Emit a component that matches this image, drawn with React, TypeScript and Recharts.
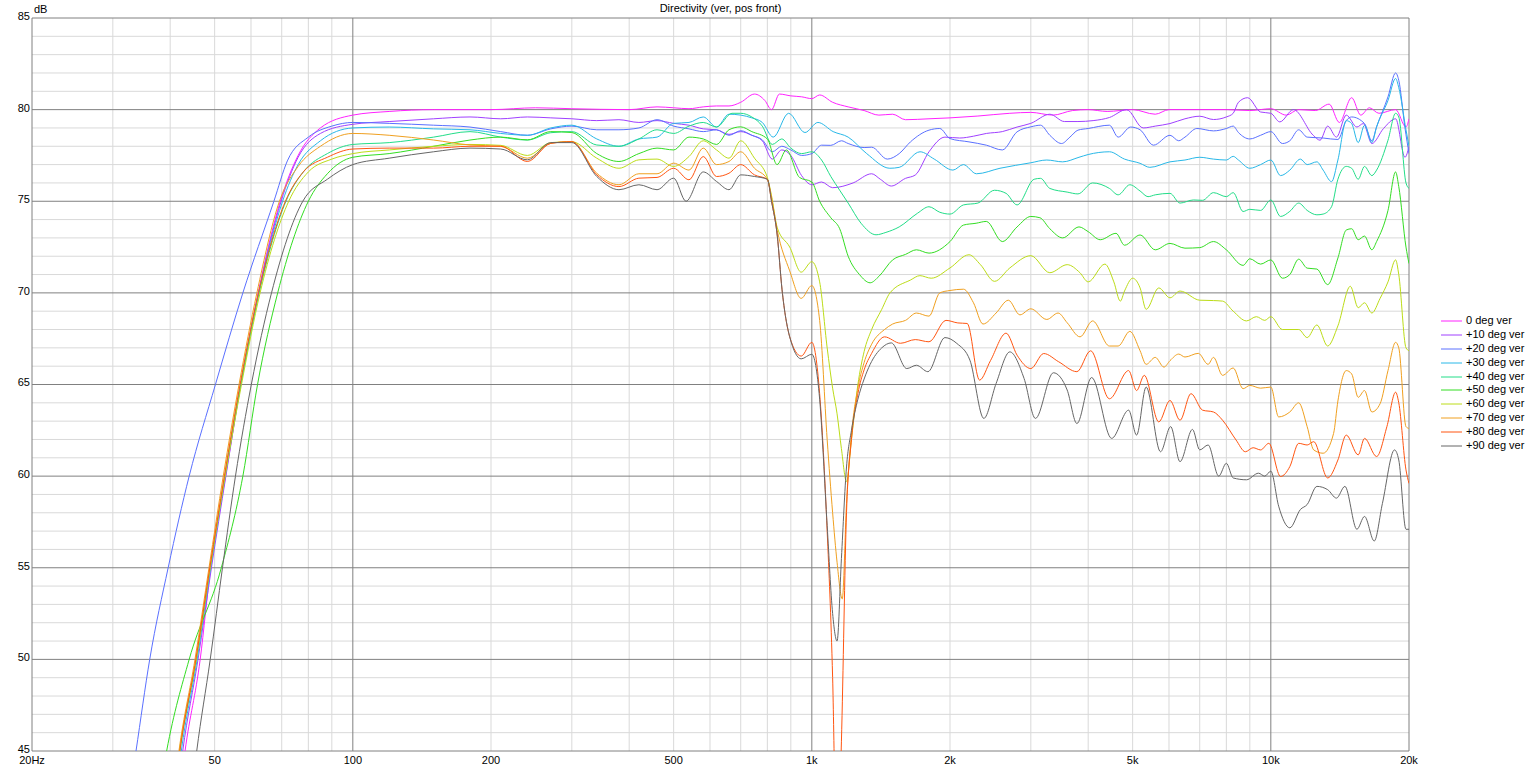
import React from 'react';
import { LineChart, Line, XAxis, YAxis, ReferenceLine } from 'recharts';

type P = [number, number];

const SERIES_NAMES = ['0 deg ver', '+10 deg ver', '+20 deg ver', '+30 deg ver', '+40 deg ver', '+50 deg ver', '+60 deg ver', '+70 deg ver', '+80 deg ver', '+90 deg ver'];
const SERIES_COLORS = ['#ff22ff', '#a040ff', '#5a70ff', '#28b8e8', '#22dd88', '#33dd22', '#bcdc18', '#f0a020', '#ff5511', '#666666'];

const FREQ_TICKS = [20, 50, 100, 200, 500, 1000, 2000, 5000, 10000, 20000];
const FREQ_TICK_LABELS = ['20Hz', '50', '100', '200', '500', '1k', '2k', '5k', '10k', '20k'];
const DB_TICKS = [45, 50, 55, 60, 65, 70, 75, 80, 85];
const X_MAJOR = [100, 1000, 10000];
const X_MINOR = [30, 40, 50, 60, 70, 80, 90, 200, 300, 400, 500, 600, 700, 800, 900, 2000, 3000, 4000, 5000, 6000, 7000, 8000, 9000];
const Y_MAJOR = [50, 55, 60, 65, 70, 75, 80];
const Y_MINOR = [46, 47, 48, 49, 51, 52, 53, 54, 56, 57, 58, 59, 61, 62, 63, 64, 66, 67, 68, 69, 71, 72, 73, 74, 76, 77, 78, 79, 81, 82, 83, 84];

const S0: P[] = [[39, 35], [43.1, 45], [46.5, 50], [49, 55], [52.8, 60], [57, 65], [62.2, 70], [69.5, 75], [76, 77.5], [85, 79], [100, 79.7], [120, 79.9], [150, 80], [200, 80], [250, 80.1], [300, 80.05], [400, 80], [460, 80.15], [500, 80.1], [540, 80.05], [580, 80.15], [620, 80.2], [660, 80.2], [700, 80.4], [750, 80.85], [790, 80.5], [817, 80.0], [850, 80.85], [900, 80.75], [950, 80.7], [1000, 80.6], [1040, 80.8], [1110, 80.4], [1200, 80.15], [1300, 79.95], [1400, 79.7], [1500, 79.75], [1600, 79.45], [1800, 79.5], [2000, 79.55], [2300, 79.65], [2700, 79.8], [3000, 79.85], [3350, 79.7], [3700, 79.95], [4000, 80], [4400, 79.9], [5000, 80], [5600, 79.75], [6000, 80], [7000, 80], [8000, 80], [9000, 79.95], [10000, 80.05], [10800, 79.7], [11500, 80], [12500, 79.95], [13400, 80.3], [14100, 79.3], [15000, 80.65], [15700, 79.7], [16400, 80.1], [17200, 79.8], [18700, 80], [19700, 79.05], [20000, 79.5]];

const S10: P[] = [[38.6, 35], [42.6, 45], [46, 50], [49.2, 55], [52.9, 60], [57, 65], [62.3, 70], [69.8, 75], [76, 77.4], [85, 78.7], [100, 79.2], [120, 79.35], [150, 79.5], [180, 79.6], [210, 79.5], [240, 79.6], [270, 79.55], [300, 79.5], [340, 79.4], [380, 79.45], [420, 79.3], [460, 79.4], [500, 79.25], [540, 79.15], [580, 78.95], [620, 78.9], [660, 78.65], [700, 78.8], [740, 78.6], [780, 78.3], [820, 77.3], [860, 77.8], [900, 77.5], [950, 76.4], [1000, 75.9], [1050, 76.05], [1110, 75.74], [1230, 76.0], [1350, 76.5], [1410, 76.2], [1490, 75.83], [1600, 76.25], [1680, 76.43], [1800, 77.7], [1950, 78.5], [2100, 78.45], [2250, 78.55], [2400, 78.7], [2600, 78.8], [2800, 79.05], [3000, 79.25], [3300, 79.75], [3550, 79.35], [3800, 79.35], [4100, 79.4], [4450, 79.57], [4850, 80.0], [5270, 79.0], [5600, 79.1], [6030, 79.24], [6500, 79.5], [7000, 79.64], [7500, 79.46], [8000, 79.6], [8280, 79.8], [8500, 80.4], [8900, 80.65], [9500, 79.87], [10000, 79.8], [10460, 79.33], [11200, 80.0], [12370, 78.6], [12800, 78.33], [13300, 79.1], [13900, 78.5], [14600, 79.7], [15400, 79.05], [15900, 79.24], [16600, 78.15], [17600, 78.97], [18700, 79.5], [19600, 77.4], [20000, 78.0]];

const S20: P[] = [[30, 36.5], [33.7, 45], [36.1, 50], [39.6, 55], [44, 60], [50.2, 65], [57.6, 70], [67.3, 75], [72, 77.2], [80, 78.5], [90, 79.1], [100, 79.3], [120, 79.25], [150, 79.15], [180, 79.05], [210, 78.8], [240, 78.6], [270, 78.95], [300, 79.1], [340, 78.9], [380, 78.9], [420, 79.0], [460, 79.45], [500, 79.1], [540, 78.95], [580, 78.8], [620, 78.9], [660, 78.6], [700, 78.85], [740, 78.6], [780, 78.35], [820, 77.7], [860, 78.0], [900, 77.8], [950, 77.5], [1000, 77.6], [1050, 78.06], [1100, 78.05], [1160, 78.3], [1200, 78.15], [1300, 77.93], [1350, 77.95], [1460, 77.3], [1550, 77.6], [1640, 78.24], [1800, 78.88], [1900, 78.97], [2000, 78.42], [2200, 78.24], [2400, 78.06], [2600, 77.8], [2800, 78.79], [3000, 79.06], [3150, 79.15], [3300, 78.6], [3500, 78.15], [3650, 78.5], [3800, 78.88], [4000, 78.97], [4450, 79.15], [4650, 78.5], [4950, 79.05], [5190, 78.9], [5550, 78.06], [6030, 78.6], [6300, 78.3], [6500, 78.5], [6900, 78.97], [7500, 78.84], [8000, 78.97], [8280, 79.1], [8500, 78.75], [9000, 78.4], [9500, 78.6], [10000, 78.8], [10600, 78.15], [11000, 78.3], [11500, 78.9], [12000, 78.5], [13000, 78.45], [14000, 78.37], [14600, 79.4], [15000, 79.6], [16000, 79.24], [16600, 78.3], [17000, 79.06], [18000, 80.7], [18700, 82.0], [19000, 81.6], [19600, 79.0], [20000, 77.6]];

const S30: P[] = [[38.3, 35], [42.3, 45], [45.8, 50], [49, 55], [52.7, 60], [57, 65], [62.4, 70], [70.3, 75], [76, 77.0], [85, 78.3], [100, 79.0], [120, 79.05], [150, 78.95], [180, 78.9], [210, 78.7], [240, 78.6], [270, 79.0], [300, 79.15], [340, 78.4], [380, 78.0], [420, 78.4], [460, 78.5], [500, 79.25], [540, 79.3], [580, 79.6], [620, 79.05], [660, 79.75], [700, 79.7], [740, 79.55], [780, 79.3], [824, 78.5], [890, 79.8], [966, 78.75], [1031, 79.3], [1113, 78.8], [1200, 78.5], [1317, 77.6], [1479, 76.8], [1550, 76.85], [1721, 77.7], [1848, 77.3], [2030, 76.7], [2138, 77.0], [2284, 76.5], [2570, 76.8], [3000, 77.1], [3250, 77.25], [3520, 77.15], [3820, 77.4], [4000, 77.55], [4450, 77.7], [4800, 77.3], [5190, 77.07], [5450, 76.85], [6030, 77.15], [6500, 77.25], [7000, 77.4], [7500, 77.3], [8000, 77.25], [8280, 77.45], [8500, 77.25], [9000, 76.8], [9500, 77.0], [10000, 77.25], [10500, 76.4], [11000, 76.7], [11600, 77.3], [12000, 77.0], [12600, 77.15], [13000, 76.7], [13560, 76.07], [14000, 77.25], [14600, 79.4], [15000, 79.24], [15500, 78.2], [16000, 79.15], [16600, 78.2], [17000, 79.06], [18000, 80.5], [18700, 81.7], [19000, 81.2], [19700, 78.9], [20000, 78.0]];

const S40: P[] = [[38, 35], [42, 45], [45.6, 50], [48.9, 55], [52.6, 60], [57, 65], [62.5, 70], [71.5, 75], [78, 76.6], [88, 77.6], [100, 78.1], [120, 78.2], [150, 78.5], [180, 78.8], [210, 78.5], [240, 78.34], [270, 78.74], [300, 78.8], [340, 78.07], [380, 78.0], [420, 78.4], [460, 78.9], [500, 78.7], [540, 79.1], [580, 79.3], [620, 79.05], [670, 79.8], [700, 79.8], [740, 79.6], [780, 79.1], [820, 78.1], [860, 78.4], [900, 77.9], [950, 77.6], [1000, 77.7], [1050, 77.25], [1100, 76.35], [1150, 75.6], [1200, 74.9], [1280, 73.8], [1380, 73.17], [1450, 73.3], [1550, 73.6], [1700, 74.35], [1800, 74.7], [1900, 74.4], [2000, 74.3], [2140, 74.8], [2300, 74.9], [2500, 75.6], [2650, 75.43], [2800, 74.8], [3050, 76.2], [3150, 76.25], [3300, 75.7], [3600, 75.5], [3800, 75.4], [4090, 76.0], [4450, 75.7], [4650, 75.35], [4930, 75.9], [5190, 75.56], [5400, 75.25], [5600, 75.35], [6030, 75.43], [6340, 74.9], [6780, 75.07], [7100, 75.05], [7500, 75.47], [8000, 75.25], [8280, 75.47], [8700, 74.44], [9000, 74.56], [9500, 74.5], [10000, 75.07], [10500, 74.17], [11000, 74.45], [11500, 74.9], [12000, 74.5], [12600, 74.26], [13000, 74.3], [13560, 74.7], [14000, 76.2], [14600, 76.9], [15000, 76.8], [15500, 76.2], [16000, 76.9], [16600, 76.4], [17000, 76.7], [18000, 78.33], [18700, 79.8], [19000, 79.6], [19700, 76.0], [20000, 75.7]];

const S50: P[] = [[36.5, 40], [39.3, 45], [44, 50], [51.7, 55], [57.6, 60], [62, 65], [68.6, 70], [80, 75], [88, 76.5], [100, 77.4], [120, 77.6], [150, 78.0], [180, 78.34], [210, 78.5], [240, 78.35], [270, 78.8], [300, 78.75], [340, 77.6], [380, 77.17], [420, 77.6], [460, 77.9], [500, 77.8], [540, 78.5], [580, 78.4], [620, 78.1], [660, 78.9], [700, 79.06], [740, 78.8], [800, 78.4], [840, 77.0], [880, 77.8], [940, 76.3], [1000, 76.05], [1040, 75.0], [1100, 74.1], [1150, 73.5], [1200, 72.0], [1270, 71.0], [1340, 70.55], [1400, 70.9], [1500, 71.8], [1600, 72.1], [1690, 72.35], [1800, 72.17], [2000, 72.8], [2140, 73.7], [2280, 73.8], [2400, 73.9], [2600, 72.8], [2800, 73.6], [3000, 74.17], [3140, 74.1], [3300, 73.5], [3520, 73.0], [3820, 73.6], [4000, 73.34], [4250, 72.9], [4600, 73.25], [4800, 72.6], [5190, 73.16], [5600, 72.35], [6030, 72.7], [6500, 72.44], [7000, 72.47], [7500, 72.8], [8000, 72.35], [8700, 71.5], [9000, 71.86], [9500, 71.57], [10000, 71.8], [10600, 70.8], [11000, 71.0], [11500, 71.84], [12000, 71.35], [12600, 71.3], [13300, 70.45], [14000, 71.9], [14600, 73.43], [15000, 73.5], [15500, 72.9], [16000, 73.1], [16600, 72.35], [17000, 72.8], [18000, 74.5], [18700, 76.6], [19000, 75.8], [19700, 72.5], [20000, 71.6]];

const S60: P[] = [[38, 35], [41.9, 45], [45.6, 50], [48.9, 55], [52.7, 60], [57.2, 65], [62.8, 70], [72.5, 75], [80, 76.6], [90, 77.3], [100, 77.6], [120, 77.8], [150, 78.0], [180, 78.1], [210, 78.05], [240, 77.5], [270, 78.2], [300, 78.25], [340, 77.35], [380, 76.8], [420, 77.26], [460, 77.3], [500, 76.9], [540, 77.44], [580, 78.3], [620, 77.8], [660, 77.35], [700, 78.3], [750, 77.35], [800, 76.3], [817, 75.3], [841, 73.55], [895, 72.5], [948, 71.13], [1000, 71.7], [1040, 70.6], [1080, 67], [1110, 64.8], [1135, 63.4], [1160, 61.5], [1190, 59.7], [1220, 62.0], [1260, 65.0], [1300, 66.8], [1350, 68.0], [1420, 69.1], [1480, 70.0], [1640, 70.7], [1720, 70.94], [1820, 70.8], [2000, 71.36], [2200, 72.08], [2330, 71.54], [2500, 70.63], [2700, 71.36], [3000, 72.03], [3300, 71.1], [3600, 71.54], [3838, 71.1], [4000, 70.6], [4350, 71.57], [4550, 70.6], [4700, 69.55], [4800, 70.1], [5000, 70.8], [5190, 70.27], [5350, 69.1], [5700, 70.27], [6030, 69.73], [6340, 70.1], [7000, 69.6], [7500, 69.58], [7850, 69.55], [8280, 69.0], [8850, 68.47], [9300, 68.7], [9700, 68.5], [10000, 68.7], [10600, 68.0], [11500, 68.0], [12000, 67.56], [12600, 68.25], [13300, 67.1], [14000, 68.2], [14900, 70.36], [15500, 69.19], [16000, 69.46], [16600, 68.9], [17300, 69.7], [18000, 70.6], [18700, 71.8], [19000, 71.0], [19700, 67.0], [20000, 66.84]];

const S70: P[] = [[37.8, 35], [41.8, 45], [45.3, 50], [48.6, 55], [52.2, 60], [56.5, 65], [61.8, 70], [69.2, 75], [76, 76.9], [85, 78.0], [100, 78.7], [120, 78.6], [150, 78.34], [180, 78.07], [210, 78.0], [240, 77.35], [270, 78.16], [300, 78.25], [340, 76.53], [380, 75.9], [420, 76.5], [460, 76.5], [500, 77.08], [540, 76.7], [580, 77.9], [620, 77.0], [660, 77.17], [700, 77.7], [750, 76.8], [800, 76.2], [817, 75.2], [841, 73.4], [895, 71.2], [948, 69.7], [1000, 70.4], [1040, 68.5], [1080, 62], [1110, 58], [1135, 55.3], [1165, 53.3], [1190, 58.5], [1220, 62.3], [1260, 64.8], [1300, 66.2], [1350, 67.2], [1440, 68.0], [1500, 68.3], [1600, 68.5], [1690, 68.9], [1800, 68.73], [1900, 70.0], [2000, 70.13], [2140, 70.2], [2250, 69.46], [2360, 68.3], [2520, 68.9], [2680, 69.6], [2840, 68.8], [3000, 69.13], [3250, 68.55], [3440, 68.9], [3600, 68.37], [3840, 67.6], [4090, 68.47], [4450, 67.1], [4650, 67.1], [4930, 67.9], [5190, 66.84], [5350, 66.1], [5600, 66.48], [5850, 65.95], [6030, 66.3], [6300, 66.66], [6500, 66.5], [6950, 66.7], [7300, 66.1], [7500, 66.48], [7850, 65.5], [8280, 65.9], [8700, 64.77], [9000, 64.95], [9500, 64.8], [10000, 64.86], [10400, 63.23], [11000, 63.5], [11500, 64.0], [12000, 62.7], [12400, 61.43], [13000, 61.25], [13700, 62.33], [14000, 64.1], [14600, 65.76], [15000, 65.58], [15500, 64.3], [16000, 64.67], [16600, 63.5], [17300, 63.95], [18000, 65.76], [18700, 67.3], [19000, 67.0], [19700, 62.7], [20000, 62.6]];

const S80: P[] = [[38, 35], [42, 45], [45.5, 50], [48.8, 55], [52.5, 60], [56.8, 65], [62.3, 70], [71.3, 75], [78, 76.6], [88, 77.4], [100, 77.85], [120, 77.9], [150, 77.9], [180, 78.0], [210, 78.0], [240, 77.17], [270, 78.16], [300, 78.25], [340, 76.44], [380, 75.8], [420, 76.26], [460, 76.3], [500, 76.8], [540, 76.17], [580, 77.44], [620, 76.35], [660, 76.53], [700, 77.0], [750, 76.44], [800, 76.2], [817, 75.0], [841, 73.1], [861, 70.2], [895, 67.6], [948, 66.55], [1000, 67.3], [1040, 64.5], [1080, 57], [1110, 49], [1135, 38], [1160, 45.5], [1190, 58], [1220, 62], [1260, 64.5], [1300, 65.8], [1350, 66.7], [1440, 67.6], [1560, 67.25], [1680, 67.45], [1800, 67.33], [1960, 68.5], [2080, 68.36], [2180, 68.33], [2320, 65.24], [2450, 66.3], [2650, 67.8], [2800, 66.6], [3000, 65.87], [3200, 66.69], [3450, 66.24], [3780, 65.7], [4050, 66.84], [4450, 64.22], [4900, 65.76], [5100, 64.67], [5300, 65.5], [5700, 62.96], [6030, 64.13], [6340, 63.05], [6700, 64.5], [7100, 63.6], [7500, 63.5], [7850, 63.05], [8400, 61.97], [8800, 61.33], [9150, 61.55], [9500, 61.43], [9900, 61.79], [10500, 59.98], [11000, 60.52], [11500, 61.79], [12000, 61.7], [12400, 61.88], [13300, 59.9], [14000, 60.88], [14600, 62.24], [15500, 61.16], [16000, 62.06], [17000, 61.07], [17900, 62.7], [18700, 64.58], [19000, 64.0], [19700, 60.34], [20000, 59.6]];

const S90: P[] = [[42.5, 38], [45.7, 45], [48.9, 50], [52, 55], [55.5, 60], [60.1, 65], [66.5, 70], [77.8, 75], [88, 76.2], [100, 77.0], [120, 77.35], [150, 77.7], [180, 77.9], [210, 77.85], [240, 77.26], [270, 78.2], [300, 78.2], [340, 76.35], [380, 75.63], [420, 75.9], [460, 75.63], [500, 76.26], [532, 75.0], [580, 76.6], [620, 76.08], [660, 75.63], [700, 76.44], [750, 76.35], [800, 76.2], [817, 75.0], [841, 73.1], [861, 70.2], [895, 67.6], [948, 66.4], [1000, 66.65], [1040, 64.2], [1080, 57.3], [1110, 52.5], [1135, 51.0], [1160, 55.5], [1190, 60.5], [1220, 62.5], [1260, 64.2], [1300, 65.3], [1340, 66.1], [1420, 67.0], [1490, 67.27], [1610, 65.87], [1690, 66.05], [1790, 65.7], [1950, 67.56], [2070, 67.24], [2210, 66.33], [2370, 63.15], [2520, 65.05], [2700, 66.78], [2900, 65.33], [3070, 63.15], [3360, 65.64], [3600, 64.7], [3780, 62.87], [4070, 65.38], [4500, 62.06], [4900, 63.6], [5100, 62.24], [5350, 64.86], [5750, 61.33], [6050, 62.7], [6340, 60.79], [6750, 62.55], [7000, 61.43], [7300, 61.7], [7700, 60.0], [8000, 60.7], [8280, 59.9], [8850, 59.8], [9400, 60.16], [9700, 60.0], [10000, 60.27], [10400, 58.36], [11000, 57.18], [11600, 58.18], [12000, 58.45], [12600, 59.44], [13300, 59.26], [13900, 58.8], [14500, 59.44], [15400, 57.1], [16000, 57.8], [16800, 56.46], [17500, 58.5], [18600, 61.43], [19000, 60.88], [19700, 57.1], [20000, 57.1]];

const SERIES_VALUES: P[][] = [S0, S10, S20, S30, S40, S50, S60, S70, S80, S90];

const FONT = '"Liberation Sans", Arial, sans-serif';
const MINOR = '#d9d9d9';
const MAJOR = '#808080';

const fmtFreq = (v: number) => {
  const i = FREQ_TICKS.indexOf(v);
  return i >= 0 ? FREQ_TICK_LABELS[i] : String(v);
};

const YTick = (props: any) => {
  const { x, y, payload } = props;
  return (
    <text x={x} y={y - 2} dy="0.355em" textAnchor="end" fontSize={11} fill="#000" fontFamily={FONT}>
      {payload.value}
    </text>
  );
};

export default function App() {
  return (
    <div style={{ position: 'absolute', left: 0, top: 0, width: 1531, height: 769, background: '#fff', fontFamily: FONT }}>
      <div style={{ position: 'absolute', left: 0, width: 1441, top: 2, textAlign: 'center', fontSize: 11, color: '#000' }}>
        Directivity (ver, pos front)
      </div>
      <div style={{ position: 'absolute', left: 34, top: 3, fontSize: 11, color: '#000' }}>dB</div>
      <LineChart width={1531} height={769} margin={{ top: 18, right: 122, bottom: 0, left: 0 }}>
        <XAxis
          dataKey="f"
          type="number"
          scale="log"
          domain={[20, 20000]}
          allowDataOverflow
          ticks={FREQ_TICKS}
          tickFormatter={fmtFreq}
          height={18}
          axisLine={false}
          tickLine={false}
          tickSize={0}
          tickMargin={5}
          interval={0}
          tick={{ fontSize: 11, fill: '#000', fontFamily: FONT }}
        />
        <YAxis
          type="number"
          domain={[45, 85]}
          allowDataOverflow
          ticks={DB_TICKS}
          width={32}
          axisLine={false}
          tickLine={false}
          tickSize={0}
          tickMargin={2}
          interval={0}
          tick={<YTick />}
        />
        {Y_MINOR.map((v) => (
          <ReferenceLine key={'ym' + v} y={v} stroke={MINOR} strokeWidth={1} />
        ))}
        {X_MINOR.map((v) => (
          <ReferenceLine key={'xm' + v} x={v} stroke={MINOR} strokeWidth={1} />
        ))}
        {Y_MAJOR.map((v) => (
          <ReferenceLine key={'yM' + v} y={v} stroke={MAJOR} strokeWidth={1} />
        ))}
        {X_MAJOR.map((v) => (
          <ReferenceLine key={'xM' + v} x={v} stroke={MAJOR} strokeWidth={1} />
        ))}
        <ReferenceLine y={45} stroke={MAJOR} strokeWidth={1} />
        <ReferenceLine y={85} stroke={MAJOR} strokeWidth={1} />
        <ReferenceLine x={20} stroke={MAJOR} strokeWidth={1} />
        <ReferenceLine x={20000} stroke={MAJOR} strokeWidth={1} />
        {SERIES_VALUES.map((s, i) => (
          <Line
            key={SERIES_NAMES[i]}
            name={SERIES_NAMES[i]}
            data={s.map(([f, v]) => ({ f, v }))}
            dataKey="v"
            type="monotone"
            stroke={SERIES_COLORS[i]}
            strokeWidth={1}
            dot={false}
            activeDot={false}
            isAnimationActive={false}
          />
        ))}
      </LineChart>
      <div style={{ position: 'absolute', left: 1440, top: 314, fontSize: 11, color: '#000', lineHeight: '13.9px' }}>
        {SERIES_NAMES.map((n, i) => (
          <div key={n} style={{ display: 'flex', alignItems: 'center', height: 13.9 }}>
            <svg width={25} height={4} style={{ marginRight: 1 }}>
              <line x1={1} y1={2} x2={22} y2={2} stroke={SERIES_COLORS[i]} strokeWidth={1} />
            </svg>
            <span>{n}</span>
          </div>
        ))}
      </div>
    </div>
  );
}
